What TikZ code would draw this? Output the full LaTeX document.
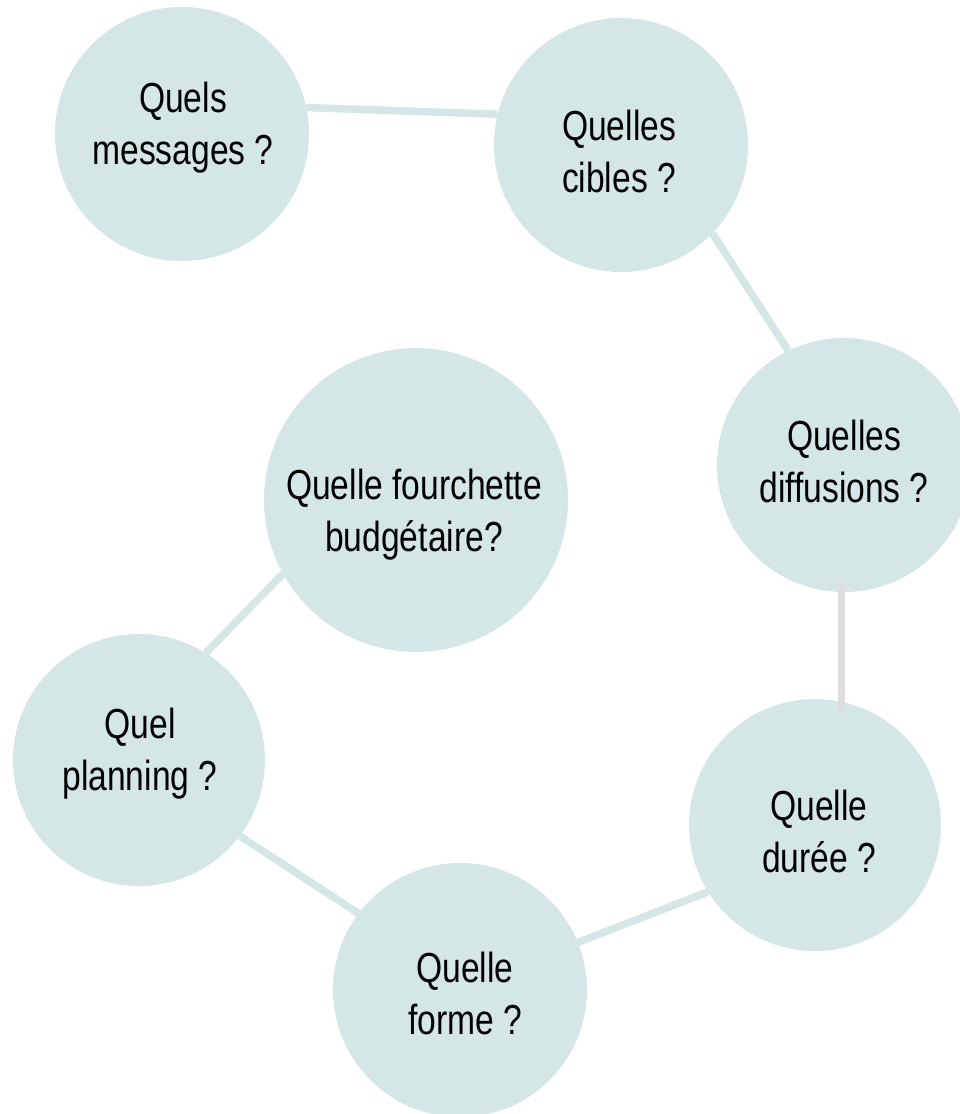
\documentclass[tikz,border=0pt]{standalone}
\usepackage{fontspec}
\setmainfont{Liberation Sans}[FakeStretch=0.8]
\definecolor{bubble}{RGB}{212,230,230}
\definecolor{linkgray}{RGB}{221,221,223}
\begin{document}
\begin{tikzpicture}[x=1pt,y=-1pt,
  bubblenode/.style={circle,fill=bubble,inner sep=0pt,minimum size=#1},
  link/.style={draw=bubble,line width=7.5pt},
  graylink/.style={draw=linkgray,line width=7pt},
  qtext/.style={align=center,font=\fontsize{42}{52}\selectfont,text=black,inner sep=0pt}]
\useasboundingbox (0,0) rectangle (959,1114);
% bubbles
\node[bubblenode=254pt] (msg) at (182,134) {};
\node[bubblenode=254pt] (cib) at (621,145) {};
\node[bubblenode=254pt] (dif) at (844,465) {};
\node[bubblenode=304pt] (bud) at (416,500) {};
\node[bubblenode=252pt] (pla) at (139,760) {};
\node[bubblenode=254pt] (for) at (460,990) {};
\node[bubblenode=252pt] (dur) at (815,825) {};
% connectors
\draw[link] (msg.12) -- (cib.166);
\draw[link] (cib.-44) -- (dif.116);
\draw[link] (dur.212) -- (for.22);
\draw[link] (for.143) -- (pla.-37);
\draw[link] (pla.58) -- (bud.209);
\draw[graylink] ([xshift=-3pt,yshift=10pt]dif.south) -- ([xshift=26pt,yshift=-13pt]dur.north);
% texts
\node[qtext] (tmsg) at (183,128) {Quels\\messages ?};
\node[qtext] (tcib) at (619,151) {Quelles\\cibles ?};
\node[qtext] (tdif) at (844,461) {Quelles\\diffusions ?};
\node[qtext] (tbud) at (414,515) {Quelle fourchette\\budgétaire?};
\node[qtext] (tpla) at (140,754) {Quel\\planning ?};
\node[qtext] (tfor) at (465,993) {Quelle\\forme ?};
\node[qtext] (tdur) at (819,831) {Quelle\\durée ?};
\end{tikzpicture}
\end{document}
